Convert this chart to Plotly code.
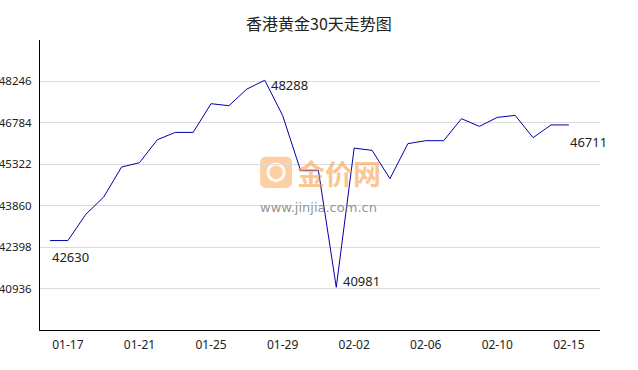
import plotly.graph_objects as go

dates = ["01-16", "01-17", "01-18", "01-19", "01-20", "01-21", "01-22", "01-23", "01-24", "01-25",
         "01-26", "01-27", "01-28", "01-29", "01-30", "01-31", "02-01", "02-02", "02-03", "02-04",
         "02-05", "02-06", "02-07", "02-08", "02-09", "02-10", "02-11", "02-12", "02-13", "02-15"]
prices = [42630, 42630, 43556, 44166, 45224, 45379, 46190, 46448, 46448, 47460,
          47389, 47975, 48288, 47047, 45108, 45108, 40981, 45894, 45813, 44815,
          46049, 46155, 46155, 46931, 46659, 46977, 47047, 46261, 46711, 46711]
y_ticks = [40936, 42398, 43860, 45322, 46784, 48246]
x_tick_labels = ["01-17", "01-21", "01-25", "01-29", "02-02", "02-06", "02-10", "02-15"]
y_range = [39474, 49708]

FONT = "Noto Sans, Noto Sans CJK SC"

fig = go.Figure()
fig.add_trace(go.Scatter(x=dates, y=prices, mode="lines",
                         line=dict(color="#0000aa", width=1), hoverinfo="skip"))

# value labels: first, max, min, last
i_max = prices.index(max(prices))
i_min = prices.index(min(prices))
labels = [(0, 0, -16), (i_max, 4, -5), (i_min, 5, 6), (len(prices) - 1, -1, -17)]
for idx, xs, ys in labels:
    fig.add_annotation(x=dates[idx], y=prices[idx], text=str(prices[idx]), showarrow=False,
                       xanchor="left", yanchor="middle", xshift=xs, yshift=ys,
                       font=dict(size=13, color="#222", family=FONT))

# watermark
fig.add_shape(type="path", xref="paper", yref="paper",
              path="M 0.405 0.49 L 0.438 0.49 Q 0.45 0.49 0.45 0.51 L 0.45 0.577 Q 0.45 0.597 0.438 0.597 "
                   "L 0.405 0.597 Q 0.393 0.597 0.393 0.577 L 0.393 0.51 Q 0.393 0.49 0.405 0.49 Z",
              fillcolor="rgba(250,170,90,0.55)", line=dict(width=0), layer="below")
fig.add_shape(type="circle", xref="paper", yref="paper", x0=0.407, x1=0.436, y0=0.515, y1=0.572,
              fillcolor="rgba(0,0,0,0)", line=dict(color="rgba(255,255,255,0.9)", width=3), layer="below")
fig.add_annotation(xref="paper", yref="paper", x=0.534, y=0.543, text="<b>金价网</b>", showarrow=False,
                   font=dict(size=28, color="rgba(250,160,70,0.6)", family="Noto Sans CJK SC"))
fig.add_annotation(xref="paper", yref="paper", x=0.498, y=0.421, text="www.jinjia.com.cn", showarrow=False,
                   font=dict(size=13, color="rgba(120,120,120,0.8)", family="DejaVu Sans"))

fig.update_layout(
    width=638, height=370,
    margin=dict(l=40, r=38, t=40, b=40, autoexpand=False),
    paper_bgcolor="white", plot_bgcolor="white",
    showlegend=False,
    font=dict(family=FONT, size=12, color="#222"),
    title=dict(text="香港黄金30天走势图", x=0.5, xanchor="center", y=0.935, yanchor="middle",
               font=dict(size=16, color="#222", family="Noto Sans CJK SC")),
)
fig.update_xaxes(type="category", range=[-0.56, 30.74], showgrid=False, automargin=False,
                 showline=True, linecolor="black", linewidth=1,
                 tickmode="array", tickvals=x_tick_labels, ticktext=x_tick_labels,
                 ticks="", ticklabelstandoff=4, tickfont=dict(size=12), zeroline=False)
fig.update_yaxes(range=y_range, tickmode="array", tickvals=y_ticks,
                 ticktext=[str(v) for v in y_ticks], automargin=False,
                 showgrid=True, gridcolor="#dcdcdc", gridwidth=1,
                 showline=True, linecolor="black", linewidth=1,
                 ticks="", ticklabelstandoff=5, tickfont=dict(size=11.5), zeroline=False)

fig.write_html("out.html")
